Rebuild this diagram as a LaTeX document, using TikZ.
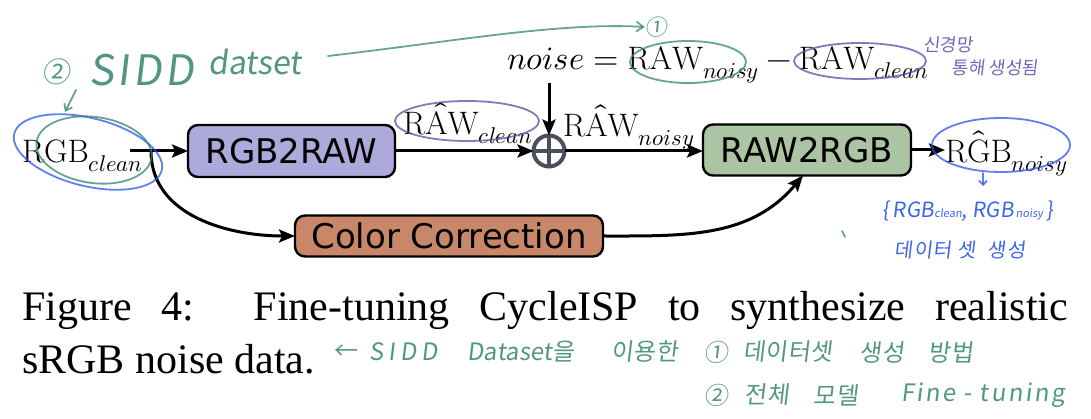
\documentclass[tikz,border=0pt]{standalone}
\usepackage{unicode-math}
\newfontfamily\boxfont{DejaVu Sans}
\newfontfamily\capfont{Liberation Serif}
\newfontfamily\hand[FakeSlant=0.12]{Noto Sans CJK KR}
\usetikzlibrary{arrows.meta}
\definecolor{tealpen}{RGB}{52,132,112}
\definecolor{purppen}{RGB}{88,78,168}
\definecolor{bluepen}{RGB}{40,85,235}
\definecolor{rawfill}{RGB}{174,169,219}
\definecolor{rgbfill}{RGB}{171,196,164}
\definecolor{ccfill}{RGB}{201,135,105}
\definecolor{opgray}{RGB}{74,80,89}
\tikzset{
  stepbox/.style={draw=black, line width=2.4pt, rounded corners=10pt, inner sep=0pt, outer sep=0pt,
    font=\boxfont\fontsize{34}{40}\selectfont},
  arr/.style={line width=3pt, -{Stealth[length=16pt,width=13pt,inset=3pt]}},
  mtext/.style={inner sep=0pt, outer sep=0pt, font=\fontsize{32.5}{38}\selectfont},
  pen/.style={line width=1.8pt, opacity=0.75, line cap=round, line join=round},
  penT/.style={pen, draw=tealpen},
  penP/.style={pen, draw=purppen},
  penB/.style={pen, draw=bluepen},
  handT/.style={inner sep=0pt, text=tealpen, text opacity=0.85, font=\hand\fontsize{24}{28}\selectfont},
  handP/.style={inner sep=0pt, text=purppen, text opacity=0.85, font=\hand\fontsize{18}{22}\selectfont},
  handB/.style={inner sep=0pt, text=bluepen, text opacity=0.9, font=\hand\fontsize{21}{25}\selectfont},
  captxt/.style={inner sep=0pt, anchor=base west, font=\capfont\fontsize{42}{50}\selectfont},
}
\begin{document}
\begin{tikzpicture}[x=1pt,y=-1pt]
\useasboundingbox (0,0) rectangle (1091,419);

% ---- main diagram ----
\node[mtext, anchor=base west] (rgbc) at (22,163) {$\mathrm{RGB}_{clean}$};
\node[stepbox, fill=rawfill, minimum width=207pt, minimum height=52pt] (rgb2raw) at (291.5,151) {RGB2RAW};
\node[stepbox, fill=rgbfill, minimum width=208pt, minimum height=51pt] (raw2rgb) at (807,150) {RAW2RGB};
\node[stepbox, fill=ccfill, minimum width=308pt, minimum height=41pt] (cc) at (449,236) {Color Correction};
\node[circle, draw=opgray, line width=4pt, fill=white, minimum size=31pt, inner sep=0pt, outer sep=0pt] (op) at (549,151) {};
\draw[opgray, line width=4pt] (op.north) -- (op.south) (op.west) -- (op.east);

\node[mtext, anchor=base west] (rawc) at (403,135) {$\hat{\mathrm{RAW}}_{clean}$};
\node[mtext, anchor=base west] (rawn) at (563,137) {$\hat{\mathrm{RAW}}_{noisy}$};
\node[mtext, anchor=base west] (rgbn) at (945,163) {$\hat{\mathrm{RGB}}_{noisy}$};
\node[mtext, anchor=base west] (eq) at (507,70) {$noise=\mathrm{RAW}_{noisy}-\mathrm{RAW}_{clean}$};

\coordinate (rgbout) at (130,151);
\coordinate (split) at (151,151);
\draw[arr] (rgbout) -- (rgb2raw.west);
\draw[arr] (rgb2raw.east) -- (op.west);
\draw[arr] (op.north |- eq.south) -- (op.north);
\draw[arr] (op.east) -- (raw2rgb.west |- op.east);
\draw[arr] (raw2rgb.east) -- (raw2rgb.east -| rgbn.west);
\draw[arr] (split) to[out=-90,in=180] (cc.west);
\draw[arr] (cc.east) to[out=0,in=-130] ([xshift=-4pt]raw2rgb.south);

% ---- caption ----
\node[captxt] (cap1) at (22,320) {\makebox[1046pt][l]{Figure\hfill 4:\hfill\hfill Fine-tuning\hfill CycleISP\hfill to\hfill synthesize\hfill realistic}};
\node[captxt] (cap2) at (22,373) {sRGB noise data.};

% ---- handwritten annotations ----
\node[handT, font=\hand\fontsize{28}{30}\selectfont] (two) at (56,72) {②};
\node[handT, font=\hand\addfontfeature{LetterSpace=8}\fontsize{42}{44}\selectfont] (sidd) at (142,70) {SIDD};
\node[handT, font=\hand\fontsize{32}{34}\selectfont] (datset) at (255,62) {datset};
\coordinate (tA) at (76,90);
\coordinate (tB) at (65,112);
\draw[penT, -{Straight Barb[length=6pt,width=9pt]}] (tA) -- (tB);
\node[handT, font=\hand\fontsize{22}{24}\selectfont] (one) at (656,27) {①};
\coordinate (tC) at (328,56);
\draw[penT, -{Straight Barb[length=7pt,width=10pt]}] (tC) .. controls (450,42) and (560,22) .. (one.west);

\draw[penB, rotate around={-14:(88,152)}] (88,152) ellipse (76pt and 34pt);
\draw[penT, rotate around={-8:(94,150)}] (94,150) ellipse (58pt and 33pt);
\draw[penP] (467,121) ellipse (72pt and 20pt);
\draw[penT] (688,62) ellipse (58pt and 21pt);
\draw[penP] (860,61) ellipse (66pt and 18pt);
\draw[penB] (1001,145) ellipse (69pt and 27pt);

\node[handP] (sk1) at (948,45) {신경망};
\node[handP] (sk2) at (995,68) {통해 생성됨};

\coordinate (bA) at (983,173);
\coordinate (bB) at (983,186);
\draw[penB, -{Straight Barb[length=4pt,width=8pt]}] (bA) -- (bB);
\node[handB] (pair) at (968,211) {\{\,RGB{\fontsize{11}{12}\selectfont clean}, RGB{\fontsize{11}{12}\selectfont\,noisy}\,\}};
\node[handB, font=\hand\addfontfeature{LetterSpace=6}\fontsize{20}{24}\selectfont] (dset) at (960,250) {데이터 셋 \ 생성};
\coordinate (mA) at (842,231);
\coordinate (mB) at (845,237);
\draw[penT] (mA) -- (mB);

% bottom notes
\node[handT] (b1) at (345,352) {←};
\node[handT, font=\hand\addfontfeature{LetterSpace=20}\fontsize{24}{28}\selectfont] (b2) at (404,352) {SIDD};
\node[handT] (b3) at (521,352) {Dataset을};
\node[handT] (b4) at (645,352) {이용한};
\node[handT] (b5) at (716,352) {①};
\node[handT] (b6) at (788,352) {데이터셋};
\node[handT] (b7) at (882,352) {생성};
\node[handT] (b8) at (951,352) {방법};
\node[handT] (c1) at (716,395) {②};
\node[handT] (c2) at (767,395) {전체};
\node[handT] (c3) at (836,395) {모델};
\node[handT, font=\hand\addfontfeature{LetterSpace=10}\fontsize{24}{28}\selectfont] (c4) at (983,395) {Fine - tuning};
\end{tikzpicture}
\end{document}
